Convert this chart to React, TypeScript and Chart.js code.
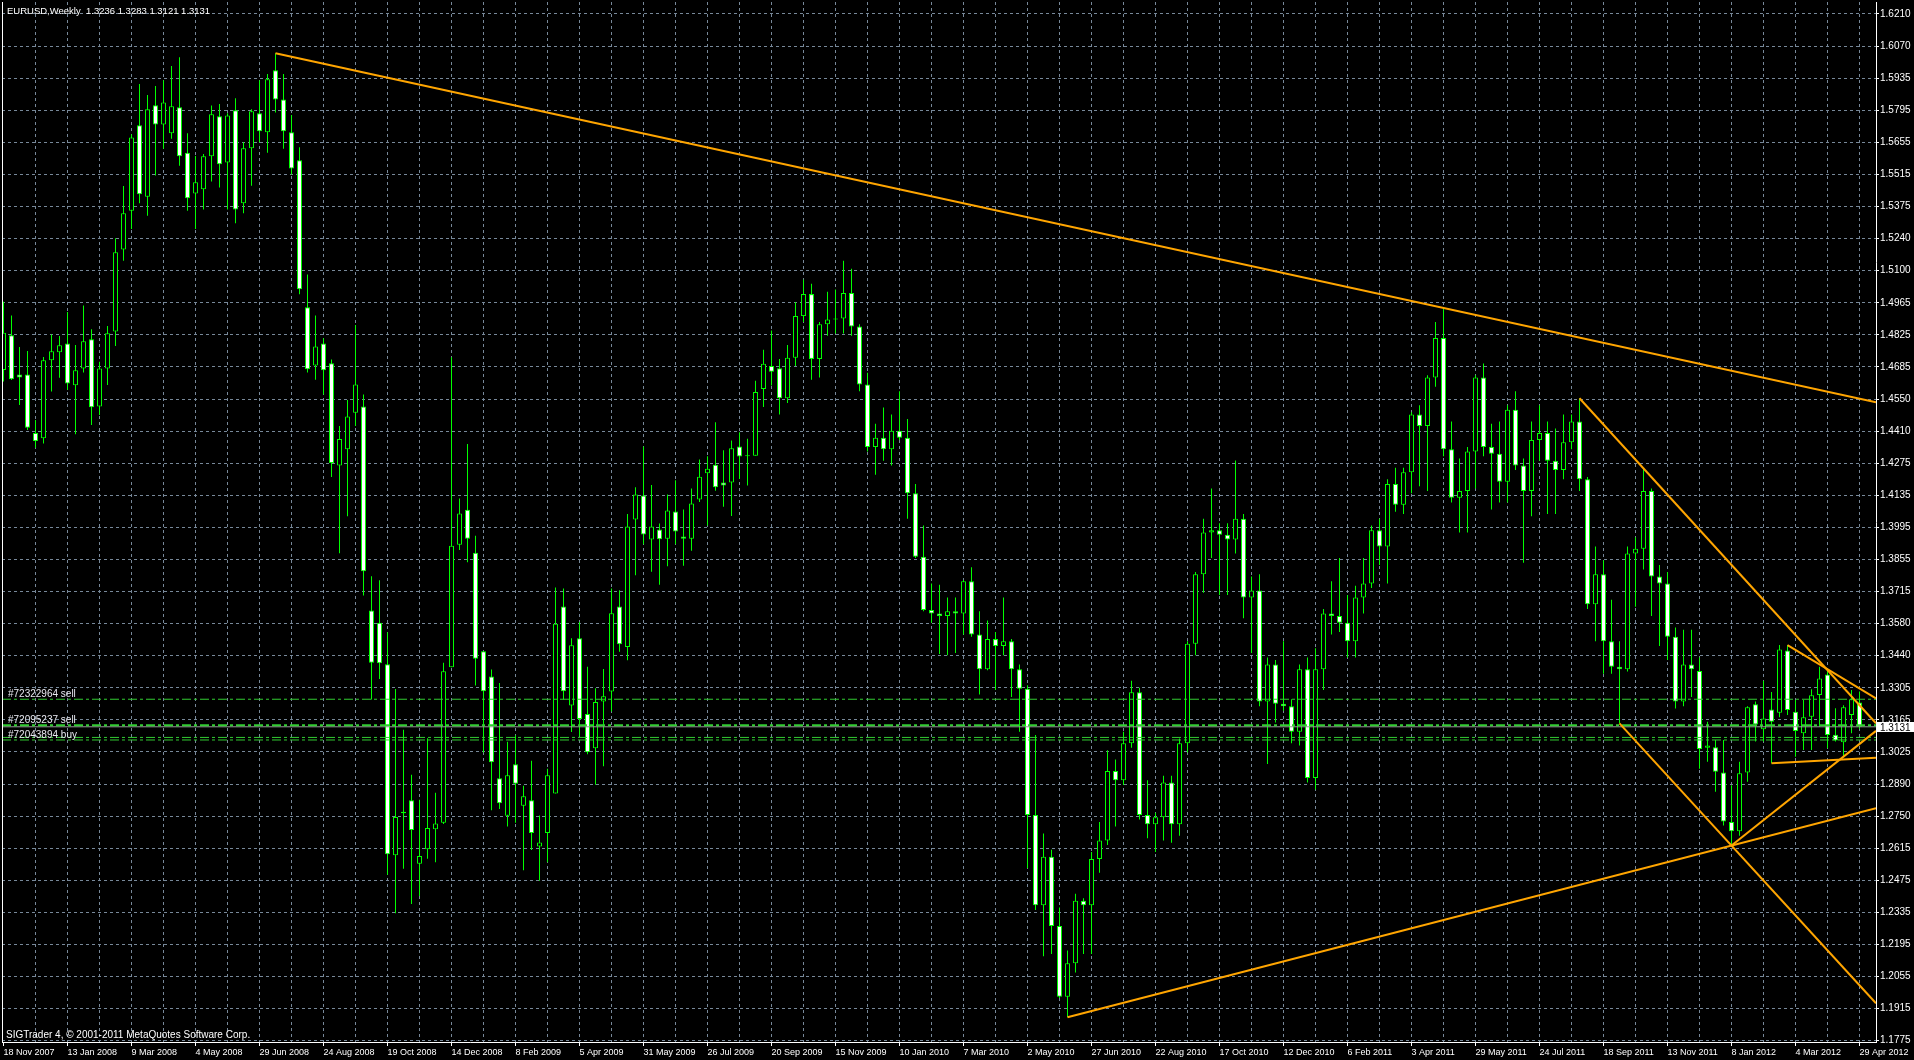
import React, { useEffect, useRef } from 'react';
import { Chart, registerables } from 'chart.js';

Chart.register(...registerables);

// ---------------- data ----------------
const SYMBOL = 'EURUSD';
const PERIOD = 'Weekly';
const COPYRIGHT = 'SIGTrader 4, \u00A9 2001-2011 MetaQuotes Software Corp.';

// one label every 8 weekly bars, starting at bar 0
const dateLabels = [
  '18 Nov 2007', '13 Jan 2008', '9 Mar 2008', '4 May 2008', '29 Jun 2008', '24 Aug 2008',
  '19 Oct 2008', '14 Dec 2008', '8 Feb 2009', '5 Apr 2009', '31 May 2009', '26 Jul 2009',
  '20 Sep 2009', '15 Nov 2009', '10 Jan 2010', '7 Mar 2010', '2 May 2010', '27 Jun 2010',
  '22 Aug 2010', '17 Oct 2010', '12 Dec 2010', '6 Feb 2011', '3 Apr 2011', '29 May 2011',
  '24 Jul 2011', '18 Sep 2011', '13 Nov 2011', '8 Jan 2012', '4 Mar 2012', '29 Apr 2012',
];

const priceLabels = [
  '1.6210', '1.6070', '1.5935', '1.5795', '1.5655', '1.5515', '1.5375', '1.5240', '1.5100',
  '1.4965', '1.4825', '1.4685', '1.4550', '1.4410', '1.4275', '1.4135', '1.3995', '1.3855',
  '1.3715', '1.3580', '1.3440', '1.3305', '1.3165', '1.3025', '1.2890', '1.2750', '1.2615',
  '1.2475', '1.2335', '1.2195', '1.2055', '1.1915', '1.1775',
];

const opens = [
  1.4672, 1.4822, 1.4653, 1.4653, 1.4400, 1.4377, 1.4714, 1.4749, 1.4787, 1.4606,
  1.4679, 1.4805, 1.4514, 1.4679, 1.4838, 1.5193, 1.5360, 1.5729, 1.5421, 1.5816,
  1.5733, 1.5695, 1.5807, 1.5611, 1.5435, 1.5453, 1.5595, 1.5768, 1.5569, 1.5794,
  1.5392, 1.5630, 1.5781, 1.5699, 1.5967, 1.5841, 1.5699, 1.5578, 1.4943, 1.4692,
  1.4787, 1.4701, 1.4260, 1.4330, 1.4488, 1.4514, 1.3633, 1.3580, 1.3401, 1.2576,
  1.2764, 1.2814, 1.2539, 1.2602, 1.2688, 1.2716, 1.3388, 1.3917, 1.4069, 1.3883,
  1.3457, 1.3348, 1.2909, 1.2747, 1.2969, 1.2790, 1.2814, 1.2614, 1.2672, 1.2843,
  1.3651, 1.3223, 1.3513, 1.3186, 1.3038, 1.3240, 1.3283, 1.3651, 1.3476, 1.4026,
  1.4130, 1.3940, 1.3983, 1.3943, 1.4061, 1.3953, 1.3943, 1.4113, 1.4226, 1.4263,
  1.4186, 1.4186, 1.4342, 1.4300, 1.4302, 1.4590, 1.4689, 1.4680, 1.4550, 1.4725,
  1.4905, 1.5000, 1.4720, 1.4870, 1.4890, 1.4895, 1.5005, 1.4860, 1.4610, 1.4340,
  1.4380, 1.4330, 1.4410, 1.4380, 1.4140, 1.3865, 1.3635, 1.3620, 1.3610, 1.3630,
  1.3620, 1.3760, 1.3530, 1.3380, 1.3510, 1.3480, 1.3500, 1.3380, 1.3295, 1.2750,
  1.2360, 1.2570, 1.2270, 1.1965, 1.2110, 1.2380, 1.2360, 1.2560, 1.2640, 1.2940,
  1.2900, 1.3060, 1.3280, 1.2750, 1.2710, 1.2740, 1.2890, 1.2710, 1.3060, 1.3490,
  1.3790, 1.3970, 1.3980, 1.3960, 1.3940, 1.4030, 1.3690, 1.3720, 1.3240, 1.3400,
  1.3230, 1.3220, 1.3110, 1.3380, 1.2910, 1.3380, 1.3620, 1.3610, 1.3580, 1.3500,
  1.3690, 1.3750, 1.3980, 1.3910, 1.4180, 1.4090, 1.4230, 1.4480, 1.4430, 1.4640,
  1.4810, 1.4330, 1.4120, 1.4150, 1.4320, 1.4640, 1.4340, 1.4310, 1.4190, 1.4500,
  1.4260, 1.4150, 1.4370, 1.4400, 1.4280, 1.4240, 1.4360, 1.4450, 1.4200, 1.3660,
  1.3790, 1.3500, 1.3390, 1.3380, 1.3880, 1.3900, 1.4150, 1.3780, 1.3750, 1.3520,
  1.3240, 1.3400, 1.3372, 1.3040, 1.3043, 1.2934, 1.2720, 1.2680, 1.2934, 1.3228,
  1.3120, 1.3206, 1.3192, 1.3460, 1.3196, 1.3103, 1.3174, 1.3268, 1.3357, 1.3097,
  1.3064, 1.3182, 1.3236,
];

const highs = [
  1.4967, 1.4908, 1.4771, 1.4754, 1.4456, 1.4728, 1.4826, 1.4819, 1.4923, 1.4780,
  1.4951, 1.4848, 1.4708, 1.4862, 1.5241, 1.5467, 1.5690, 1.5908, 1.5860, 1.5899,
  1.5924, 1.5985, 1.6023, 1.5695, 1.5597, 1.5605, 1.5815, 1.5821, 1.5781, 1.5846,
  1.5656, 1.5798, 1.5924, 1.5951, 1.6040, 1.5951, 1.5774, 1.5634, 1.5085, 1.4908,
  1.4809, 1.4718, 1.4430, 1.4543, 1.4867, 1.4566, 1.3781, 1.3764, 1.3539, 1.3294,
  1.3118, 1.2924, 1.2816, 1.3081, 1.2846, 1.3408, 1.4727, 1.4117, 1.4353, 1.3956,
  1.3457, 1.3378, 1.3320, 1.3066, 1.3094, 1.2876, 1.2984, 1.2748, 1.2950, 1.3733,
  1.3728, 1.3513, 1.3584, 1.3390, 1.3298, 1.3381, 1.3728, 1.3721, 1.4050, 1.4166,
  1.4342, 1.4175, 1.4009, 1.4134, 1.4196, 1.4070, 1.4160, 1.4286, 1.4300, 1.4446,
  1.4325, 1.4368, 1.4403, 1.4375, 1.4626, 1.4760, 1.4843, 1.4720, 1.4780, 1.4965,
  1.5062, 1.5045, 1.4880, 1.5010, 1.5020, 1.5144, 1.5110, 1.4870, 1.4660, 1.4440,
  1.4510, 1.4480, 1.4580, 1.4460, 1.4180, 1.4000, 1.3750, 1.3745, 1.3690, 1.3690,
  1.3765, 1.3820, 1.3630, 1.3590, 1.3540, 1.3690, 1.3510, 1.3400, 1.3310, 1.3095,
  1.2670, 1.2600, 1.2350, 1.2165, 1.2410, 1.2390, 1.2590, 1.2720, 1.3030, 1.2990,
  1.3110, 1.3330, 1.3300, 1.2900, 1.2760, 1.2920, 1.2920, 1.3080, 1.3500, 1.3800,
  1.4030, 1.4160, 1.4010, 1.4010, 1.4281, 1.4050, 1.3780, 1.3790, 1.3430, 1.3420,
  1.3500, 1.3250, 1.3400, 1.3430, 1.3470, 1.3640, 1.3760, 1.3860, 1.3700, 1.3740,
  1.3860, 1.4000, 1.4030, 1.4200, 1.4250, 1.4250, 1.4490, 1.4520, 1.4650, 1.4880,
  1.4940, 1.4450, 1.4290, 1.4340, 1.4650, 1.4700, 1.4440, 1.4450, 1.4520, 1.4580,
  1.4290, 1.4450, 1.4520, 1.4450, 1.4420, 1.4480, 1.4480, 1.4550, 1.4210, 1.3910,
  1.3850, 1.3680, 1.3500, 1.3910, 1.3950, 1.4250, 1.4160, 1.3830, 1.3800, 1.3560,
  1.3550, 1.3550, 1.3430, 1.3153, 1.3074, 1.3074, 1.2879, 1.2980, 1.3220, 1.3240,
  1.3330, 1.3281, 1.3484, 1.3484, 1.3247, 1.3247, 1.3293, 1.3390, 1.3380, 1.3211,
  1.3224, 1.3290, 1.3283,
];

const lows = [
  1.4622, 1.4629, 1.4521, 1.4413, 1.4336, 1.4355, 1.4579, 1.4639, 1.4586, 1.4395,
  1.4661, 1.4435, 1.4478, 1.4607, 1.4776, 1.5144, 1.5281, 1.5392, 1.5339, 1.5512,
  1.5628, 1.5671, 1.5555, 1.5360, 1.5281, 1.5365, 1.5486, 1.5460, 1.5365, 1.5306,
  1.5349, 1.5468, 1.5656, 1.5611, 1.5785, 1.5628, 1.5517, 1.4999, 1.4661, 1.4630,
  1.4566, 1.4210, 1.3881, 1.4040, 1.4430, 1.3698, 1.3249, 1.3337, 1.2492, 1.2326,
  1.2518, 1.2366, 1.2400, 1.2561, 1.2546, 1.2711, 1.3388, 1.3895, 1.3842, 1.3309,
  1.3020, 1.2770, 1.2776, 1.2700, 1.2717, 1.2511, 1.2599, 1.2466, 1.2546, 1.2843,
  1.3249, 1.3109, 1.3089, 1.3012, 1.2881, 1.2960, 1.3197, 1.3455, 1.3418, 1.3786,
  1.3919, 1.3801, 1.3745, 1.3824, 1.3919, 1.3827, 1.3891, 1.4102, 1.4000, 1.4151,
  1.4082, 1.4042, 1.4201, 1.4173, 1.4302, 1.4512, 1.4605, 1.4480, 1.4530, 1.4690,
  1.4880, 1.4630, 1.4640, 1.4820, 1.4830, 1.4830, 1.4820, 1.4580, 1.4320, 1.4220,
  1.4280, 1.4260, 1.4370, 1.4030, 1.3860, 1.3630, 1.3580, 1.3445, 1.3440, 1.3450,
  1.3530, 1.3520, 1.3270, 1.3375, 1.3290, 1.3440, 1.3260, 1.3110, 1.2520, 1.2340,
  1.2140, 1.2150, 1.1960, 1.1876, 1.2070, 1.2150, 1.2150, 1.2500, 1.2620, 1.2700,
  1.2880, 1.3040, 1.2730, 1.2650, 1.2590, 1.2640, 1.2630, 1.2660, 1.3020, 1.3440,
  1.3710, 1.3860, 1.3700, 1.3700, 1.3880, 1.3600, 1.3450, 1.3220, 1.2970, 1.3150,
  1.3200, 1.3060, 1.3050, 1.2890, 1.2860, 1.3290, 1.3530, 1.3540, 1.3430, 1.3430,
  1.3620, 1.3730, 1.3830, 1.3750, 1.4060, 1.4050, 1.4140, 1.4170, 1.4150, 1.4600,
  1.4300, 1.4100, 1.3970, 1.3970, 1.4160, 1.4300, 1.4070, 1.4100, 1.4100, 1.4240,
  1.3840, 1.4040, 1.4280, 1.4050, 1.4050, 1.4200, 1.4330, 1.4150, 1.3640, 1.3500,
  1.3360, 1.3360, 1.3146, 1.3370, 1.3650, 1.3810, 1.3610, 1.3480, 1.3420, 1.3210,
  1.3220, 1.3260, 1.2950, 1.2980, 1.2850, 1.2705, 1.2624, 1.2660, 1.2894, 1.3067,
  1.3067, 1.2973, 1.3172, 1.3182, 1.3002, 1.3031, 1.3031, 1.3131, 1.3038, 1.3067,
  1.3002, 1.3103, 1.3121,
];

const closes = [
  1.4833, 1.4632, 1.4640, 1.4423, 1.4365, 1.4714, 1.4753, 1.4779, 1.4614, 1.4671,
  1.4796, 1.4511, 1.4679, 1.4831, 1.5181, 1.5349, 1.5677, 1.5431, 1.5798, 1.5733,
  1.5828, 1.5811, 1.5595, 1.5414, 1.5483, 1.5595, 1.5777, 1.5561, 1.5772, 1.5366,
  1.5630, 1.5790, 1.5703, 1.5928, 1.5841, 1.5703, 1.5543, 1.5021, 1.4675, 1.4774,
  1.4671, 1.4270, 1.4374, 1.4471, 1.4610, 1.3803, 1.3408, 1.3405, 1.2580, 1.2741,
  1.2758, 1.2685, 1.2573, 1.2694, 1.2713, 1.3371, 1.3913, 1.4052, 1.3943, 1.3425,
  1.3285, 1.2978, 1.2801, 1.2922, 1.2885, 1.2831, 1.2672, 1.2631, 1.2922, 1.3576,
  1.3285, 1.3483, 1.3165, 1.3021, 1.3238, 1.3263, 1.3621, 1.3487, 1.3996, 1.4134,
  1.3962, 1.3996, 1.3941, 1.4065, 1.3975, 1.3943, 1.4095, 1.4211, 1.4246, 1.4166,
  1.4173, 1.4334, 1.4299, 1.4303, 1.4577, 1.4699, 1.4665, 1.4550, 1.4725, 1.4905,
  1.5000, 1.4720, 1.4870, 1.4890, 1.4895, 1.5005, 1.4860, 1.4610, 1.4340, 1.4380,
  1.4330, 1.4410, 1.4380, 1.4140, 1.3865, 1.3635, 1.3620, 1.3610, 1.3630, 1.3620,
  1.3760, 1.3530, 1.3380, 1.3510, 1.3480, 1.3500, 1.3380, 1.3295, 1.2750, 1.2360,
  1.2570, 1.2270, 1.1965, 1.2110, 1.2380, 1.2360, 1.2560, 1.2640, 1.2940, 1.2900,
  1.3060, 1.3280, 1.2750, 1.2710, 1.2740, 1.2890, 1.2710, 1.3060, 1.3490, 1.3790,
  1.3970, 1.3980, 1.3960, 1.3940, 1.4030, 1.3690, 1.3720, 1.3240, 1.3400, 1.3230,
  1.3220, 1.3110, 1.3380, 1.2910, 1.3380, 1.3620, 1.3610, 1.3580, 1.3500, 1.3690,
  1.3750, 1.3980, 1.3910, 1.4180, 1.4090, 1.4230, 1.4480, 1.4430, 1.4640, 1.4810,
  1.4330, 1.4120, 1.4150, 1.4320, 1.4640, 1.4340, 1.4310, 1.4190, 1.4500, 1.4260,
  1.4150, 1.4370, 1.4400, 1.4280, 1.4240, 1.4360, 1.4450, 1.4200, 1.3660, 1.3790,
  1.3500, 1.3390, 1.3380, 1.3880, 1.3900, 1.4150, 1.3780, 1.3750, 1.3520, 1.3240,
  1.3400, 1.3380, 1.3035, 1.3050, 1.2937, 1.2722, 1.2680, 1.2930, 1.3215, 1.3141,
  1.3167, 1.3153, 1.3465, 1.3203, 1.3113, 1.3172, 1.3267, 1.3340, 1.3095, 1.3072,
  1.3215, 1.3250, 1.3131,
];

// trend lines (bar index, price) anchor pairs, each extended as a ray to the right edge
const trendStartBar = [34, 133, 197, 202, 223, 216, 221];
const trendStartPrice = [1.6040, 1.1876, 1.4550, 1.3146, 1.3484, 1.2618, 1.2973];
const trendThroughBar = [180, 216, 205, 216, 228, 230, 230];
const trendThroughPrice = [1.4940, 1.2618, 1.4247, 1.2618, 1.3380, 1.3002, 1.2990];

// open orders
const orderPrices = [1.3250, 1.3138, 1.3085, 1.3074];
const orderLabels = ['#72322964 sell', '#72095237 sell', '', '#72043894 buy'];
const bidPrice = 1.3131;

// ---------------- view / style ----------------
const W = 1914;
const H = 1060;
const PLOT_LEFT = 2;
const PLOT_TOP = 2;
const AXIS_RIGHT_W = 38;
const AXIS_BOTTOM_H = 18;
const BAR_PX = 8;
const FIRST_BAR_OFFSET_PX = 1.5;
const PLOT_W = W - PLOT_LEFT - AXIS_RIGHT_W;
const X_MIN = -FIRST_BAR_OFFSET_PX / BAR_PX;
const X_MAX = X_MIN + PLOT_W / BAR_PX;
const Y_MAX = 1.62618;
const Y_MIN = 1.17694;
const GRID_EVERY = 4;
const LABEL_EVERY = 8;

const BG = '#000000';
const GRID = '#778899';
const AXIS = '#ffffff';
const LIME = '#00ff00';
const ORANGE = '#ffa500';
const ORDER_GREEN = '#32cd32';
const BID_GRAY = '#9a9a9a';
const FONT = '"Liberation Sans", Arial, sans-serif';
const TREND_WIDTHS = [2, 2, 2, 2, 2, 2, 2];
const ORDER_WIDTHS = [1, 2, 1, 1];
const ORDER_DASH = [9, 3, 3, 3];

const priceTop = parseFloat(priceLabels[0]);
const priceStep = (priceTop - parseFloat(priceLabels[priceLabels.length - 1])) / (priceLabels.length - 1);

function rayEnd(k: number): number {
  const slope = (trendThroughPrice[k] - trendStartPrice[k]) / (trendThroughBar[k] - trendStartBar[k]);
  return trendStartPrice[k] + slope * (X_MAX - trendStartBar[k]);
}

const overlayPlugin = {
  id: 'mt4Overlay',
  beforeDraw(chart: any) {
    const { ctx, width, height } = chart;
    ctx.save();
    ctx.fillStyle = BG;
    ctx.fillRect(0, 0, width, height);
    ctx.restore();
  },
  afterDraw(chart: any) {
    const { ctx, chartArea, scales, width } = chart;
    const y = scales.y;
    ctx.save();
    // left frame line
    ctx.strokeStyle = AXIS;
    ctx.lineWidth = 1;
    ctx.beginPath();
    ctx.moveTo(chartArea.left + 0.5, chartArea.top);
    ctx.lineTo(chartArea.left + 0.5, chartArea.bottom);
    ctx.stroke();

    ctx.textBaseline = 'alphabetic';
    ctx.textAlign = 'left';
    // header
    const last = closes.length - 1;
    const header = `${SYMBOL},${PERIOD}  ${[opens[last], highs[last], lows[last], closes[last]]
      .map((v) => v.toFixed(4))
      .join(' ')}`;
    ctx.font = `9.5px ${FONT}`;
    ctx.fillStyle = '#ffffff';
    ctx.fillText(header, 7, 14);
    // copyright
    ctx.font = `10px ${FONT}`;
    ctx.fillText(COPYRIGHT, 6, 1038);
    // order labels
    ctx.fillStyle = '#e8e8f0';
    orderPrices.forEach((p, k) => {
      if (!orderLabels[k]) return;
      ctx.fillText(orderLabels[k], 8, Math.round(y.getPixelForValue(p)) - 2);
    });
    // bid price box
    const by = Math.round(y.getPixelForValue(bidPrice));
    ctx.fillStyle = '#ffffff';
    ctx.fillRect(chartArea.right + 1, by - 5, width - chartArea.right - 1, 10);
    ctx.fillStyle = '#000000';
    ctx.fillText(bidPrice.toFixed(4), chartArea.right + 4, by + 4);
    ctx.restore();
  },
};

export default function App() {
  const canvasRef = useRef<HTMLCanvasElement | null>(null);

  useEffect(() => {
    const canvas = canvasRef.current;
    if (!canvas) return;

    const bars = opens.map((_, i) => i);

    const datasets: any[] = [];

    trendStartBar.forEach((sb, k) => {
      datasets.push({
        type: 'line',
        label: `trend${k}`,
        data: [
          { x: sb, y: trendStartPrice[k] },
          { x: X_MAX, y: rayEnd(k) },
        ],
        borderColor: ORANGE,
        borderWidth: TREND_WIDTHS[k],
        pointRadius: 0,
        tension: 0,
        fill: false,
        order: 0,
      });
    });

    orderPrices.forEach((p, k) => {
      datasets.push({
        type: 'line',
        label: `order${k}`,
        data: [
          { x: X_MIN, y: p },
          { x: X_MAX, y: p },
        ],
        borderColor: ORDER_GREEN,
        borderWidth: ORDER_WIDTHS[k],
        borderDash: ORDER_DASH,
        pointRadius: 0,
        fill: false,
        order: 1,
      });
    });

    datasets.push({
      type: 'line',
      label: 'bid',
      data: [
        { x: X_MIN, y: bidPrice },
        { x: X_MAX, y: bidPrice },
      ],
      borderColor: BID_GRAY,
      borderWidth: 1,
      pointRadius: 0,
      fill: false,
      order: 2,
    });

    datasets.push({
      type: 'bar',
      label: 'body',
      data: bars.map((i) => ({ x: i, y: [opens[i], closes[i]] })),
      backgroundColor: bars.map((i) => (closes[i] >= opens[i] ? '#000000' : '#ffffff')),
      borderColor: LIME,
      borderWidth: 1,
      borderSkipped: false,
      inflateAmount: 0,
      barThickness: 5,
      minBarLength: 1,
      grouped: false,
      order: 3,
    });

    datasets.push({
      type: 'bar',
      label: 'wick',
      data: bars.map((i) => ({ x: i, y: [lows[i], highs[i]] })),
      backgroundColor: LIME,
      borderWidth: 0,
      inflateAmount: 0,
      barThickness: 1,
      minBarLength: 1,
      grouped: false,
      order: 4,
    });

    const xTickValues: number[] = [];
    for (let v = 0; v <= (dateLabels.length - 1) * LABEL_EVERY; v += GRID_EVERY) xTickValues.push(v);

    const chart = new Chart(canvas, {
      type: 'bar',
      data: { datasets },
      plugins: [overlayPlugin],
      options: {
        responsive: false,
        animation: false,
        devicePixelRatio: 1,
        events: [],
        layout: { padding: { left: PLOT_LEFT, top: PLOT_TOP, right: 0, bottom: 0 } },
        plugins: {
          legend: { display: false },
          tooltip: { enabled: false },
          title: { display: false },
        },
        scales: {
          x: {
            type: 'linear',
            position: 'bottom',
            min: X_MIN,
            max: X_MAX,
            offset: false,
            bounds: 'data',
            grid: {
              offset: false,
              color: (c: any) => (c.tick && c.tick.value === 0 ? 'rgba(0,0,0,0)' : GRID),
              lineWidth: 1,
              drawTicks: true,
              tickLength: 4,
              tickWidth: 1,
              tickColor: (c: any) => (c.tick && c.tick.value % LABEL_EVERY === 0 ? AXIS : 'rgba(0,0,0,0)'),
            },
            border: { display: true, color: AXIS, width: 1, dash: [3, 3] },
            ticks: {
              autoSkip: false,
              maxRotation: 0,
              minRotation: 0,
              align: 'start',
              padding: 1,
              color: '#ffffff',
              font: { family: FONT, size: 9 },
              callback: (v: any) => (v % LABEL_EVERY === 0 ? dateLabels[v / LABEL_EVERY] : ''),
            },
            afterBuildTicks: (s: any) => {
              s.ticks = xTickValues.map((value) => ({ value }));
            },
            afterFit: (s: any) => {
              s.height = AXIS_BOTTOM_H;
              s.paddingLeft = 0;
              s.paddingRight = 0;
            },
          },
          y: {
            type: 'linear',
            position: 'right',
            min: Y_MIN,
            max: Y_MAX,
            beginAtZero: false,
            bounds: 'data',
            grid: {
              color: GRID,
              lineWidth: 1,
              drawTicks: true,
              tickLength: 3,
              tickWidth: 1,
              tickColor: AXIS,
            },
            border: { display: true, color: AXIS, width: 1, dash: [3, 3] },
            ticks: {
              autoSkip: false,
              padding: 1,
              color: '#ffffff',
              font: { family: FONT, size: 10 },
              callback: (_v: any, idx: number) => priceLabels[idx],
            },
            afterBuildTicks: (s: any) => {
              s.ticks = priceLabels.map((_, k) => ({ value: priceTop - k * priceStep }));
            },
            afterFit: (s: any) => {
              s.width = AXIS_RIGHT_W;
              s.paddingTop = 0;
              s.paddingBottom = 0;
            },
          },
        },
      } as any,
    });

    return () => {
      chart.destroy();
    };
  }, []);

  return (
    <div style={{ position: 'fixed', left: 0, top: 0, width: W, height: H, background: BG, overflow: 'hidden' }}>
      <canvas ref={canvasRef} width={W} height={H} style={{ display: 'block', width: W, height: H }} />
    </div>
  );
}
